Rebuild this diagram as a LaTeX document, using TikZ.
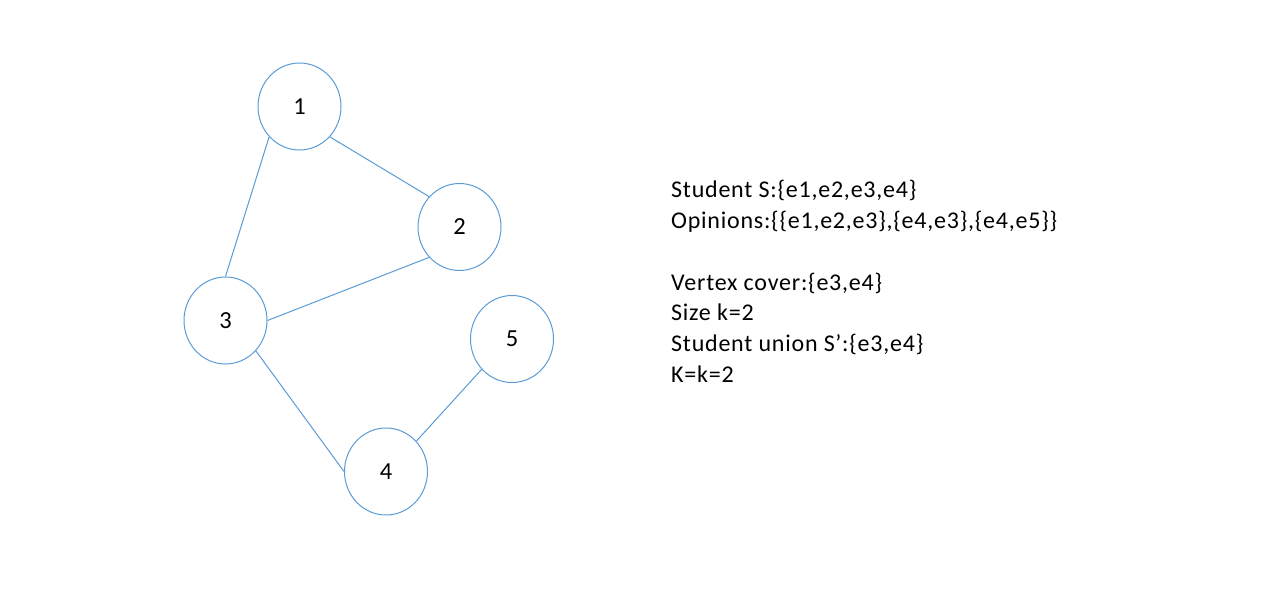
\documentclass[tikz,border=0pt]{standalone}
\usepackage{fontspec}
\setmainfont{Carlito}
\newfontfamily\infofont[LetterSpace=3.2]{Carlito}
\usetikzlibrary{shapes.geometric}
\definecolor{edgeblue}{HTML}{5B9BD5}
\tikzset{
  vert/.style={draw=edgeblue, line width=1pt, ellipse, minimum width=83pt, minimum height=87pt, inner sep=0pt, font=\fontsize{24.5}{29}\selectfont},
  link/.style={draw=edgeblue, line width=1pt},
  info/.style={anchor=base west, inner sep=0pt, font=\infofont\fontsize{24}{29}\selectfont}
}
\begin{document}
\begin{tikzpicture}[x=1pt,y=-1pt]
\useasboundingbox (0,0) rectangle (1268,595);
\node[vert] (n1) at (299.5,106.5) {1};
\node[vert] (n2) at (459.5,227) {2};
\node[vert] (n3) at (225.5,320.5) {3};
\node[vert] (n4) at (386,471.5) {4};
\node[vert] (n5) at (512,339) {5};
\draw[link] (n1.-45) -- (n2.135);
\draw[link] (n1.-135) -- (n3.90);
\draw[link] (n2.-135) -- (n3.0);
\draw[link] (n3.-45) -- (n4.180);
\draw[link] (n4.45) -- (n5.-135);
\node[info] (t1) at (671,197) {Student S:\{e1,e2,e3,e4\}};
\node[info] (t2) at (671,228) {Opinions:\{\{e1,e2,e3\},\{e4,e3\},\{e4,e5\}\}};
\node[info] (t3) at (671,290) {Vertex cover:\{e3,e4\}};
\node[info] (t4) at (671,320) {Size k=2};
\node[info] (t5) at (671,351) {Student union S’:\{e3,e4\}};
\node[info] (t6) at (671,382) {K=k=2};
\end{tikzpicture}
\end{document}
